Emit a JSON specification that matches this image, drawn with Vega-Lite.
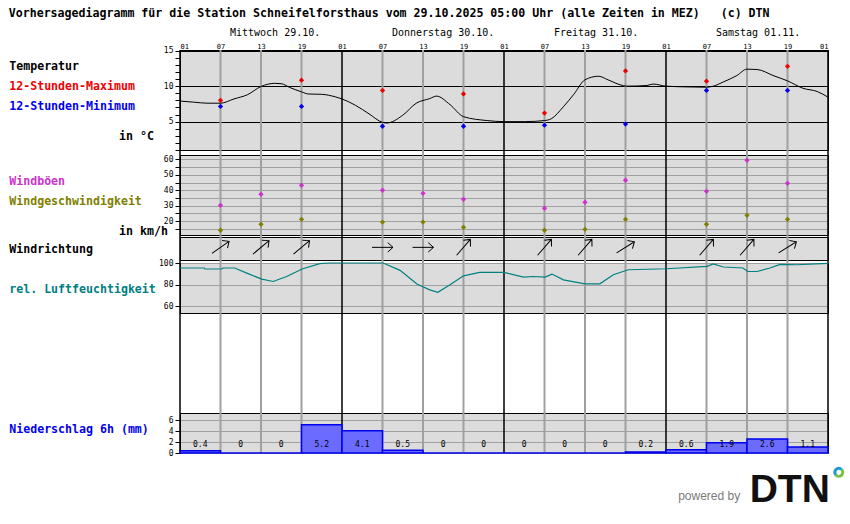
{
  "$schema": "https://vega.github.io/schema/vega-lite/v6.json",
  "autosize": {"type": "none"},
  "padding": {"left": 180, "top": 50, "right": 670, "bottom": 474},
  "background": "white",
  "title": {
    "text": "Vorhersagediagramm für die Station Schneifelforsthaus vom 29.10.2025 05:00 Uhr (alle Zeiten in MEZ)\u00a0\u00a0\u00a0(c) DTN",
    "anchor": "start",
    "frame": "bounds",
    "font": "DejaVu Sans Mono",
    "fontSize": 11.6,
    "fontWeight": "bold",
    "color": "black",
    "offset": 8
  },
  "config": {
    "font": "DejaVu Sans Mono",
    "view": {"stroke": null},
    "axis": {
      "labelFont": "DejaVu Sans Mono",
      "labelFontSize": 8,
      "labelColor": "black",
      "tickColor": "black",
      "domainColor": "black",
      "tickSize": 5,
      "tickWidth": 1,
      "labelPadding": 2,
      "title": null
    }
  },
  "datasets": {
    "grid": [
      {"h": 0}, {"h": 6}, {"h": 12}, {"h": 18}, {"h": 24}, {"h": 30}, {"h": 36}, {"h": 42}, {"h": 48},
      {"h": 54}, {"h": 60}, {"h": 66}, {"h": 72}, {"h": 78}, {"h": 84}, {"h": 90}, {"h": 96}
    ],
    "days": [
      {"h": 7.4, "label": "Mittwoch 29.10."},
      {"h": 31.4, "label": "Donnerstag 30.10."},
      {"h": 55.4, "label": "Freitag 31.10."},
      {"h": 79.4, "label": "Samstag 01.11."}
    ],
    "temp": [
      {"h": 0, "t": 7.9}, {"h": 2, "t": 7.75}, {"h": 4, "t": 7.6}, {"h": 6, "t": 7.6}, {"h": 8, "t": 8.2},
      {"h": 10, "t": 8.8}, {"h": 12, "t": 9.95}, {"h": 14, "t": 10.4}, {"h": 15, "t": 10.35}, {"h": 16.3, "t": 9.8},
      {"h": 18, "t": 9.2}, {"h": 19, "t": 8.9}, {"h": 21, "t": 8.85}, {"h": 23, "t": 8.5}, {"h": 24, "t": 8.2},
      {"h": 26, "t": 7.3}, {"h": 28, "t": 6.1}, {"h": 30, "t": 4.9}, {"h": 30.6, "t": 4.8}, {"h": 33, "t": 5.9},
      {"h": 35, "t": 7.6}, {"h": 37, "t": 8.25}, {"h": 38, "t": 8.6}, {"h": 40, "t": 7.4}, {"h": 42, "t": 5.7},
      {"h": 45.5, "t": 5.15}, {"h": 48, "t": 5.0}, {"h": 51, "t": 5.0}, {"h": 54, "t": 5.15}, {"h": 55, "t": 5.4},
      {"h": 56.8, "t": 7.1}, {"h": 58.3, "t": 8.8}, {"h": 60, "t": 10.9}, {"h": 62, "t": 11.4}, {"h": 63.4, "t": 10.9},
      {"h": 65.2, "t": 10.2}, {"h": 66.2, "t": 10.0}, {"h": 69.2, "t": 10.1}, {"h": 70.1, "t": 10.3}, {"h": 72, "t": 10.0},
      {"h": 75, "t": 9.9}, {"h": 78, "t": 9.85}, {"h": 79, "t": 10.0}, {"h": 80.5, "t": 10.6}, {"h": 82.5, "t": 11.5},
      {"h": 84, "t": 12.4}, {"h": 85.5, "t": 12.35}, {"h": 88, "t": 11.45}, {"h": 90, "t": 10.75}, {"h": 92.3, "t": 9.7},
      {"h": 94.4, "t": 9.25}, {"h": 96, "t": 8.45}
    ],
    "extremes": [
      {"h": 6, "tmax": 8.0, "tmin": 7.15},
      {"h": 18, "tmax": 10.85, "tmin": 7.15},
      {"h": 30, "tmax": 9.4, "tmin": 4.35},
      {"h": 42, "tmax": 8.9, "tmin": 4.35},
      {"h": 54, "tmax": 6.2, "tmin": 4.5},
      {"h": 66, "tmax": 12.15, "tmin": 4.65},
      {"h": 78, "tmax": 10.7, "tmin": 9.4},
      {"h": 90, "tmax": 12.8, "tmin": 9.4}
    ],
    "wind": [
      {"h": 6, "gust": 30.2, "speed": 14.0, "dir": 235},
      {"h": 12, "gust": 37.4, "speed": 17.9, "dir": 230},
      {"h": 18, "gust": 43.2, "speed": 21.1, "dir": 230},
      {"h": 30, "gust": 40.0, "speed": 19.3, "dir": 270},
      {"h": 36, "gust": 38.0, "speed": 19.3, "dir": 270},
      {"h": 42, "gust": 34.1, "speed": 15.9, "dir": 221},
      {"h": 54, "gust": 28.3, "speed": 14.0, "dir": 221},
      {"h": 60, "gust": 32.2, "speed": 14.6, "dir": 221},
      {"h": 66, "gust": 46.5, "speed": 21.1, "dir": 238},
      {"h": 78, "gust": 39.3, "speed": 17.9, "dir": 221},
      {"h": 84, "gust": 59.5, "speed": 23.7, "dir": 221},
      {"h": 90, "gust": 44.5, "speed": 21.1, "dir": 238}
    ],
    "humidity": [
      {"h": 0, "rh": 95.4}, {"h": 3.6, "rh": 95.4}, {"h": 3.7, "rh": 94.5}, {"h": 6.2, "rh": 94.5}, {"h": 6.4, "rh": 95.4},
      {"h": 8.1, "rh": 95.4}, {"h": 9.9, "rh": 90.7}, {"h": 12.1, "rh": 85.2}, {"h": 13.8, "rh": 83}, {"h": 15.8, "rh": 87.6},
      {"h": 18.1, "rh": 94.5}, {"h": 20.7, "rh": 99.4}, {"h": 22, "rh": 100}, {"h": 30.1, "rh": 100}, {"h": 32.6, "rh": 93.2},
      {"h": 35.1, "rh": 80.6}, {"h": 37, "rh": 75.3}, {"h": 38.2, "rh": 73.1}, {"h": 40, "rh": 80}, {"h": 42, "rh": 88.2},
      {"h": 44.4, "rh": 91.3}, {"h": 48, "rh": 91.3}, {"h": 50.9, "rh": 87}, {"h": 52.3, "rh": 87.6}, {"h": 54.1, "rh": 87},
      {"h": 55.1, "rh": 89.8}, {"h": 56.8, "rh": 84.5}, {"h": 60, "rh": 80.8}, {"h": 62.2, "rh": 80.8}, {"h": 64.2, "rh": 89.2},
      {"h": 66.4, "rh": 93.8}, {"h": 72.1, "rh": 94.7}, {"h": 78.1, "rh": 96.9}, {"h": 79, "rh": 99.1}, {"h": 80.5, "rh": 96.3},
      {"h": 83.4, "rh": 95.4}, {"h": 84.1, "rh": 92.2}, {"h": 85.5, "rh": 92.2}, {"h": 87.4, "rh": 95.4}, {"h": 88.9, "rh": 98.7},
      {"h": 91.4, "rh": 98.4}, {"h": 96, "rh": 99.6}
    ],
    "precip": [
      {"start": 0, "end": 6, "mm": 0.4}, {"start": 6, "end": 12, "mm": 0}, {"start": 12, "end": 18, "mm": 0}, {"start": 18, "end": 24, "mm": 5.2},
      {"start": 24, "end": 30, "mm": 4.1}, {"start": 30, "end": 36, "mm": 0.5}, {"start": 36, "end": 42, "mm": 0}, {"start": 42, "end": 48, "mm": 0},
      {"start": 48, "end": 54, "mm": 0}, {"start": 54, "end": 60, "mm": 0}, {"start": 60, "end": 66, "mm": 0}, {"start": 66, "end": 72, "mm": 0.2},
      {"start": 72, "end": 78, "mm": 0.6}, {"start": 78, "end": 84, "mm": 1.9}, {"start": 84, "end": 90, "mm": 2.6}, {"start": 90, "end": 96, "mm": 1.1}
    ]
  },
  "spacing": 0,
  "bounds": "flush",
  "resolve": {"scale": {"x": "independent", "y": "independent", "color": "independent", "strokeWidth": "independent"}},
  "vconcat": [
    {
      "width": 648,
      "height": 100,
      "view": {"fill": "#dcdcdc", "stroke": "black", "strokeWidth": 1},
      "layer": [
        {
          "data": {"name": "grid"},
          "mark": {"type": "rule"},
          "encoding": {
            "x": {"field": "h", "type": "quantitative", "scale": {"domain": [0, 96], "nice": false, "zero": false},
              "axis": {"orient": "top", "values": [0, 6, 12, 18, 24, 30, 36, 42, 48, 54, 60, 66, 72, 78, 84, 90, 96],
                "labelExpr": "['01','07','13','19'][(datum.value / 6) % 4]", "ticks": false, "domain": false, "grid": false,
                "labelFontSize": 7, "labelPadding": 1, "labelOverlap": false, "tickCount": 100}},
            "color": {"condition": {"test": "datum.h % 24 == 0", "value": "black"}, "value": "#a0a0a0"},
            "strokeWidth": {"condition": {"test": "datum.h % 24 == 0", "value": 1.5}, "value": 2}
          }
        },
        {
          "data": {"name": "temp"},
          "mark": {"type": "line", "color": "black", "strokeWidth": 1, "interpolate": "monotone"},
          "encoding": {
            "x": {"field": "h", "type": "quantitative"},
            "y": {"field": "t", "type": "quantitative", "scale": {"domain": [1, 15.1], "nice": false, "zero": false},
              "axis": {"values": [1, 2, 3, 4, 5, 6, 7, 8, 9, 10, 11, 12, 13, 14, 15], "tickCount": 100, "format": "d",
                "labelExpr": "datum.value % 5 == 0 ? datum.label : ''", "grid": true,
                "gridColor": {"condition": {"test": "datum.value % 5 == 0", "value": "black"}, "value": "transparent"},
                "labelOverlap": false}}
          }
        },
        {
          "data": {"name": "extremes"},
          "mark": {"type": "point", "shape": "diamond", "filled": true, "size": 28, "color": "#ee0000", "opacity": 1},
          "encoding": {
            "x": {"field": "h", "type": "quantitative"},
            "y": {"field": "tmax", "type": "quantitative"}
          }
        },
        {
          "data": {"name": "extremes"},
          "mark": {"type": "point", "shape": "diamond", "filled": true, "size": 28, "color": "#0000ee", "opacity": 1},
          "encoding": {
            "x": {"field": "h", "type": "quantitative"},
            "y": {"field": "tmin", "type": "quantitative"}
          }
        },
        {
          "data": {"name": "days"},
          "mark": {"type": "text", "align": "left", "baseline": "middle", "fontSize": 10, "color": "black"},
          "encoding": {
            "x": {"field": "h", "type": "quantitative"},
            "y": {"datum": 17.5},
            "text": {"field": "label"}
          }
        },
        {
          "data": {"values": [{}]},
          "mark": {"type": "text", "text": "Temperatur", "align": "left", "baseline": "middle", "fontSize": 11.6, "fontWeight": "bold", "color": "black"},
          "encoding": {"x": {"datum": -25.3}, "y": {"datum": 12.7}}
        },
        {
          "data": {"values": [{}]},
          "mark": {"type": "text", "text": "12-Stunden-Maximum", "align": "left", "baseline": "middle", "fontSize": 11.6, "fontWeight": "bold", "color": "#ee0000"},
          "encoding": {"x": {"datum": -25.3}, "y": {"datum": 9.88}}
        },
        {
          "data": {"values": [{}]},
          "mark": {"type": "text", "text": "12-Stunden-Minimum", "align": "left", "baseline": "middle", "fontSize": 11.6, "fontWeight": "bold", "color": "#0000ee"},
          "encoding": {"x": {"datum": -25.3}, "y": {"datum": 7.06}}
        },
        {
          "data": {"values": [{}]},
          "mark": {"type": "text", "text": "in °C", "align": "right", "baseline": "middle", "fontSize": 11.6, "fontWeight": "bold", "color": "black"},
          "encoding": {"x": {"datum": -3.85}, "y": {"datum": 2.83}}
        }
      ]
    },
    {
      "width": 648,
      "height": 5,
      "data": {"name": "grid"},
      "mark": {"type": "rule"},
      "encoding": {
        "x": {"field": "h", "type": "quantitative", "scale": {"domain": [0, 96], "nice": false, "zero": false}, "axis": null},
        "color": {"condition": {"test": "datum.h % 24 == 0", "value": "black"}, "value": "#a0a0a0"},
        "strokeWidth": {"condition": {"test": "datum.h % 24 == 0", "value": 1.5}, "value": 2}
      }
    },
    {
      "width": 648,
      "height": 80,
      "view": {"fill": "#dcdcdc", "stroke": "black", "strokeWidth": 1},
      "layer": [
        {
          "data": {"name": "grid"},
          "mark": {"type": "rule"},
          "encoding": {
            "x": {"field": "h", "type": "quantitative", "scale": {"domain": [0, 96], "nice": false, "zero": false}, "axis": null},
            "color": {"condition": {"test": "datum.h % 24 == 0", "value": "black"}, "value": "#a0a0a0"},
            "strokeWidth": {"condition": {"test": "datum.h % 24 == 0", "value": 1.5}, "value": 2}
          }
        },
        {
          "data": {"name": "wind"},
          "mark": {"type": "point", "shape": "diamond", "filled": true, "size": 28, "color": "#cc33cc", "opacity": 1},
          "encoding": {
            "x": {"field": "h", "type": "quantitative"},
            "y": {"field": "gust", "type": "quantitative", "scale": {"domain": [10.9, 62.9], "nice": false, "zero": false},
              "axis": {"values": [15, 20, 25, 30, 35, 40, 45, 50, 55, 60], "tickCount": 100, "format": "d",
                "labelExpr": "datum.value % 10 == 0 ? datum.label : ''", "grid": true, "gridColor": "#a0a0a0", "gridWidth": 1.2,
                "labelOverlap": false}}
          }
        },
        {
          "data": {"name": "wind"},
          "mark": {"type": "point", "shape": "diamond", "filled": true, "size": 28, "color": "#808000", "opacity": 1},
          "encoding": {
            "x": {"field": "h", "type": "quantitative"},
            "y": {"field": "speed", "type": "quantitative"}
          }
        },
        {
          "data": {"values": [{}]},
          "mark": {"type": "text", "text": "Windböen", "align": "left", "baseline": "middle", "fontSize": 11.6, "fontWeight": "bold", "color": "#cc33cc"},
          "encoding": {"x": {"datum": -25.3}, "y": {"datum": 45.1}}
        },
        {
          "data": {"values": [{}]},
          "mark": {"type": "text", "text": "Windgeschwindigkeit", "align": "left", "baseline": "middle", "fontSize": 11.6, "fontWeight": "bold", "color": "#808000"},
          "encoding": {"x": {"datum": -25.3}, "y": {"datum": 32.5}}
        },
        {
          "data": {"values": [{}]},
          "mark": {"type": "text", "text": "in km/h", "align": "right", "baseline": "middle", "fontSize": 11.6, "fontWeight": "bold", "color": "black"},
          "encoding": {"x": {"datum": -1.78}, "y": {"datum": 13.0}}
        }
      ]
    },
    {
      "width": 648,
      "height": 2,
      "data": {"name": "grid"},
      "mark": {"type": "rule"},
      "encoding": {
        "x": {"field": "h", "type": "quantitative", "scale": {"domain": [0, 96], "nice": false, "zero": false}, "axis": null},
        "color": {"condition": {"test": "datum.h % 24 == 0", "value": "black"}, "value": "#a0a0a0"},
        "strokeWidth": {"condition": {"test": "datum.h % 24 == 0", "value": 1.5}, "value": 2}
      }
    },
    {
      "width": 648,
      "height": 23,
      "view": {"fill": "#dcdcdc", "stroke": "black", "strokeWidth": 1},
      "layer": [
        {
          "data": {"name": "grid"},
          "mark": {"type": "rule"},
          "encoding": {
            "x": {"field": "h", "type": "quantitative", "scale": {"domain": [0, 96], "nice": false, "zero": false}, "axis": null},
            "color": {"condition": {"test": "datum.h % 24 == 0", "value": "black"}, "value": "#a0a0a0"},
            "strokeWidth": {"condition": {"test": "datum.h % 24 == 0", "value": 1.5}, "value": 2}
          }
        },
        {
          "data": {"name": "wind"},
          "mark": {"type": "point", "shape": "M-1,0L1,0M0.5,-0.45L1,0L0.5,0.45", "filled": false, "size": 440, "stroke": "black", "strokeWidth": 1, "opacity": 1},
          "encoding": {
            "x": {"field": "h", "type": "quantitative"},
            "y": {"datum": 0.55, "scale": {"domain": [0, 1], "nice": false, "zero": false}, "axis": null},
            "angle": {"field": "dir", "type": "quantitative", "scale": {"domain": [0, 360], "range": [-270, 90]}, "legend": null}
          }
        },
        {
          "data": {"values": [{}]},
          "mark": {"type": "text", "text": "Windrichtung", "align": "left", "baseline": "middle", "fontSize": 11.6, "fontWeight": "bold", "color": "black"},
          "encoding": {"x": {"datum": -25.3}, "y": {"datum": 0.435}}
        }
      ]
    },
    {
      "width": 648,
      "height": 3,
      "data": {"name": "grid"},
      "mark": {"type": "rule"},
      "encoding": {
        "x": {"field": "h", "type": "quantitative", "scale": {"domain": [0, 96], "nice": false, "zero": false}, "axis": null},
        "color": {"condition": {"test": "datum.h % 24 == 0", "value": "black"}, "value": "#a0a0a0"},
        "strokeWidth": {"condition": {"test": "datum.h % 24 == 0", "value": 1.5}, "value": 2}
      }
    },
    {
      "width": 648,
      "height": 50,
      "view": {"fill": "#dcdcdc", "stroke": "black", "strokeWidth": 1},
      "layer": [
        {
          "data": {"name": "grid"},
          "mark": {"type": "rule"},
          "encoding": {
            "x": {"field": "h", "type": "quantitative", "scale": {"domain": [0, 96], "nice": false, "zero": false}, "axis": null},
            "color": {"condition": {"test": "datum.h % 24 == 0", "value": "black"}, "value": "#a0a0a0"},
            "strokeWidth": {"condition": {"test": "datum.h % 24 == 0", "value": 1.5}, "value": 2}
          }
        },
        {
          "data": {"name": "humidity"},
          "mark": {"type": "line", "color": "#008080", "strokeWidth": 1.2},
          "encoding": {
            "x": {"field": "h", "type": "quantitative"},
            "y": {"field": "rh", "type": "quantitative", "scale": {"domain": [54, 100], "nice": false, "zero": false},
              "axis": {"values": [60, 80, 100], "tickCount": 100, "format": "d", "grid": true, "gridColor": "#a0a0a0", "gridWidth": 1.2, "labelOverlap": false}}
          }
        },
        {
          "data": {"values": [{}]},
          "mark": {"type": "text", "text": "rel. Luftfeuchtigkeit", "align": "left", "baseline": "middle", "fontSize": 11.6, "fontWeight": "bold", "color": "#008080"},
          "encoding": {"x": {"datum": -25.3}, "y": {"datum": 75.2}}
        }
      ]
    },
    {
      "width": 648,
      "height": 100,
      "data": {"name": "grid"},
      "mark": {"type": "rule"},
      "encoding": {
        "x": {"field": "h", "type": "quantitative", "scale": {"domain": [0, 96], "nice": false, "zero": false}, "axis": null},
        "color": {"condition": {"test": "datum.h % 24 == 0", "value": "black"}, "value": "#a0a0a0"},
        "strokeWidth": {"condition": {"test": "datum.h % 24 == 0", "value": 1.5}, "value": 2}
      }
    },
    {
      "width": 648,
      "height": 40,
      "view": {"fill": "#dcdcdc", "stroke": "black", "strokeWidth": 1},
      "layer": [
        {
          "data": {"name": "grid"},
          "mark": {"type": "rule"},
          "encoding": {
            "x": {"field": "h", "type": "quantitative", "scale": {"domain": [0, 96], "nice": false, "zero": false}, "axis": null},
            "color": {"condition": {"test": "datum.h % 24 == 0", "value": "black"}, "value": "#a0a0a0"},
            "strokeWidth": {"condition": {"test": "datum.h % 24 == 0", "value": 1.5}, "value": 2}
          }
        },
        {
          "data": {"name": "precip"},
          "mark": {"type": "rect", "fill": "#6b6bff", "stroke": "#0000ee", "strokeWidth": 1.5},
          "encoding": {
            "x": {"field": "start", "type": "quantitative"},
            "x2": {"field": "end"},
            "y": {"field": "mm", "type": "quantitative", "scale": {"domain": [0, 7.37], "nice": false, "zero": false},
              "axis": {"values": [0, 2, 4, 6], "tickCount": 100, "format": "d", "grid": true, "gridColor": "#a0a0a0", "gridWidth": 1.2, "labelOverlap": false}},
            "y2": {"datum": 0}
          }
        },
        {
          "data": {"name": "precip"},
          "mark": {"type": "text", "align": "center", "baseline": "middle", "fontSize": 8, "color": "black", "dx": 20.25},
          "encoding": {
            "x": {"field": "start", "type": "quantitative"},
            "y": {"datum": 1.53},
            "text": {"field": "mm", "type": "nominal"}
          }
        },
        {
          "data": {"values": [{}]},
          "mark": {"type": "text", "text": "Niederschlag 6h (mm)", "align": "left", "baseline": "middle", "fontSize": 11.6, "fontWeight": "bold", "color": "#0000ee"},
          "encoding": {"x": {"datum": -25.3}, "y": {"datum": 4.29}}
        }
      ]
    },
    {
      "width": 648,
      "height": 71,
      "layer": [
        {
          "data": {"values": [{}]},
          "mark": {"type": "text", "text": "powered by", "align": "left", "baseline": "middle", "font": "Liberation Sans", "fontSize": 12, "color": "#7a7a7a"},
          "encoding": {
            "x": {"datum": 73.8, "scale": {"domain": [0, 96], "nice": false, "zero": false}, "axis": null},
            "y": {"datum": 0.394, "scale": {"domain": [0, 1], "nice": false, "zero": false}, "axis": null}
          }
        },
        {
          "data": {"values": [{}]},
          "mark": {"type": "text", "text": "DTN", "align": "left", "baseline": "alphabetic", "font": "Liberation Sans", "fontSize": 39, "fontWeight": "bold", "color": "#111111"},
          "encoding": {"x": {"datum": 84.4}, "y": {"datum": 0.314}}
        },
        {
          "data": {"values": [{}]},
          "mark": {"type": "arc", "innerRadius": 2.5, "outerRadius": 5.5, "theta": -2.356, "theta2": 0.785, "color": "#1c9ad6"},
          "encoding": {"x": {"datum": 97.6}, "y": {"datum": 0.728}}
        },
        {
          "data": {"values": [{}]},
          "mark": {"type": "arc", "innerRadius": 2.5, "outerRadius": 5.5, "theta": 0.785, "theta2": 3.927, "color": "#7ac143"},
          "encoding": {"x": {"datum": 97.6}, "y": {"datum": 0.728}}
        }
      ]
    }
  ]
}
